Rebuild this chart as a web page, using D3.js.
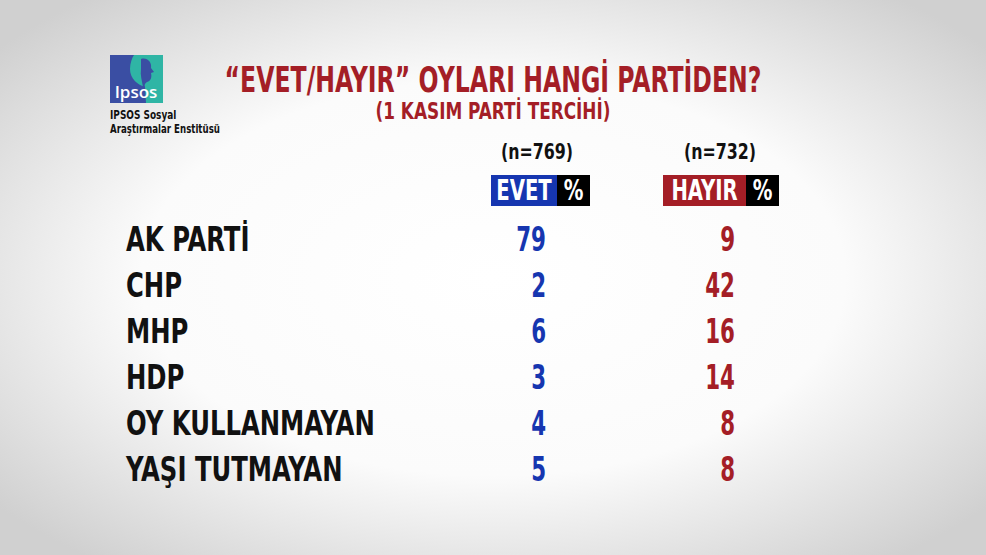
<!DOCTYPE html>
<html>
<head>
<meta charset="utf-8">
<style>
  html, body { margin: 0; padding: 0; overflow: hidden; }
  svg text { font-family: "DejaVu Sans Condensed", "DejaVu Sans", sans-serif; font-weight: bold; }
</style>
</head>
<body>
<script src="https://d3js.org/d3.v7.min.js"></script>
<script>
// survey table: which party the "yes"/"no" voters come from
var parties = ["AK PARTİ", "CHP", "MHP", "HDP", "OY KULLANMAYAN", "YAŞI TUTMAYAN"];
var evet    = [79, 2, 6, 3, 4, 5];
var hayir   = [9, 42, 16, 14, 8, 8];
var columns = ["EVET", "HAYIR"];
var sampleN = [769, 732];

var width = 986, height = 555;
var blue = "#1636b0", red = "#a41e26";

var svg = d3.select("body").append("svg")
    .attr("width", width)
    .attr("height", height);

// no condensed bold font installed, so squeeze text horizontally
function squeezed(parent, x, y, k) {
  return parent.append("g")
      .attr("transform", "translate(" + x + "," + y + ") scale(" + k + ",1)")
    .append("text");
}

// background: white centre fading to grey corners
var grad = svg.append("defs").append("radialGradient")
    .attr("id", "bg")
    .attr("cx", "50%").attr("cy", "50%").attr("r", "65%");
grad.append("stop").attr("offset", "0%").attr("stop-color", "#ffffff");
grad.append("stop").attr("offset", "55%").attr("stop-color", "#fbfbfb");
grad.append("stop").attr("offset", "100%").attr("stop-color", "#d0d0d0");
svg.append("rect").attr("width", width).attr("height", height).attr("fill", "url(#bg)");

// logo
var logo = svg.append("g").attr("transform", "translate(110,55)");
logo.append("rect").attr("width", 53).attr("height", 48).attr("fill", "#3a4ea3");
logo.append("path")   // teal head + right band
    .attr("d", "M24,0 L53,0 L53,48 L36,48 L35,32 C28,30 20,24 20,14 C20,8 22,3 24,0 Z")
    .attr("fill", "#2fb5a5");
logo.append("path")   // blue face profile
    .attr("d", "M31,4 C37,2 42,7 41,13 L44,17 L41,18 C42,22 41,26 37,27 C35,28 34,30 35,32 L33,32 C32,26 30,20 31,14 Z")
    .attr("fill", "#3a4ea3");
logo.append("text").attr("x", 26).attr("y", 43).attr("text-anchor", "middle")
    .attr("fill", "#fff").style("font-family", "Open Sans, sans-serif").style("font-weight", "600")
    .style("font-size", "17px").text("Ipsos");
squeezed(svg, 110, 119, 0.83).attr("fill", "#111").style("font-size", "12px").text("IPSOS Sosyal");
squeezed(svg, 110, 133, 0.8).attr("fill", "#111").style("font-size", "12px").text("Araştırmalar Enstitüsü");

// titles
svg.append("text").attr("x", 493).attr("y", 92).attr("text-anchor", "middle")
    .attr("fill", red).style("font-size", "35px")
    .attr("textLength", 537).attr("lengthAdjust", "spacingAndGlyphs")
    .text("“EVET/HAYIR” OYLARI HANGİ PARTİDEN?");
svg.append("text").attr("x", 493).attr("y", 119).attr("text-anchor", "middle")
    .attr("fill", red).style("font-size", "23px")
    .attr("textLength", 235).attr("lengthAdjust", "spacingAndGlyphs")
    .text("(1 KASIM PARTİ TERCİHİ)");

// scales
var y = d3.scalePoint().domain(parties).range([251, 481]);
var xRight = d3.scalePoint().domain(columns).range([546, 735]);
var colColor = d3.scaleOrdinal().domain(columns).range([blue, red]);
var values = { "EVET": evet, "HAYIR": hayir };

// column headers
columns.forEach(function (c, i) {
  squeezed(svg, [537, 720][i], 159, 0.8)
      .attr("text-anchor", "middle")
      .attr("fill", "#111")
      .style("font-size", "22px")
      .text("(n=" + sampleN[i] + ")");
});

var boxes = [
  { name: "EVET",  x0: 491, x1: 557, x2: 590 },
  { name: "HAYIR", x0: 663, x1: 746, x2: 779 }
];
boxes.forEach(function (b) {
  svg.append("rect").attr("x", b.x0).attr("y", 175).attr("width", b.x1 - b.x0).attr("height", 31)
      .attr("fill", colColor(b.name));
  svg.append("rect").attr("x", b.x1).attr("y", 175).attr("width", b.x2 - b.x1).attr("height", 31)
      .attr("fill", "#000");
  squeezed(svg, (b.x0 + b.x1) / 2, 200, 0.78).attr("text-anchor", "middle")
      .attr("fill", "#fff").style("font-size", "28px").text(b.name);
  squeezed(svg, (b.x1 + b.x2) / 2, 200, 0.78).attr("text-anchor", "middle")
      .attr("fill", "#fff").style("font-size", "28px").text("%");
});

// row labels
svg.selectAll("g.party").data(parties).enter().append("g")
    .attr("class", "party")
    .attr("transform", function (d) { return "translate(126," + y(d) + ") scale(0.82,1)"; })
  .append("text")
    .attr("fill", "#111")
    .style("font-size", "33px")
    .text(function (d) { return d; });

// values
columns.forEach(function (c) {
  svg.selectAll("g.val-" + c).data(values[c]).enter().append("g")
      .attr("class", "val-" + c)
      .attr("transform", function (d, i) {
        return "translate(" + xRight(c) + "," + y(parties[i]) + ") scale(0.72,1)";
      })
    .append("text")
      .attr("text-anchor", "end")
      .attr("fill", colColor(c))
      .style("font-size", "33px")
      .text(function (d) { return d; });
});
</script>
</body>
</html>
